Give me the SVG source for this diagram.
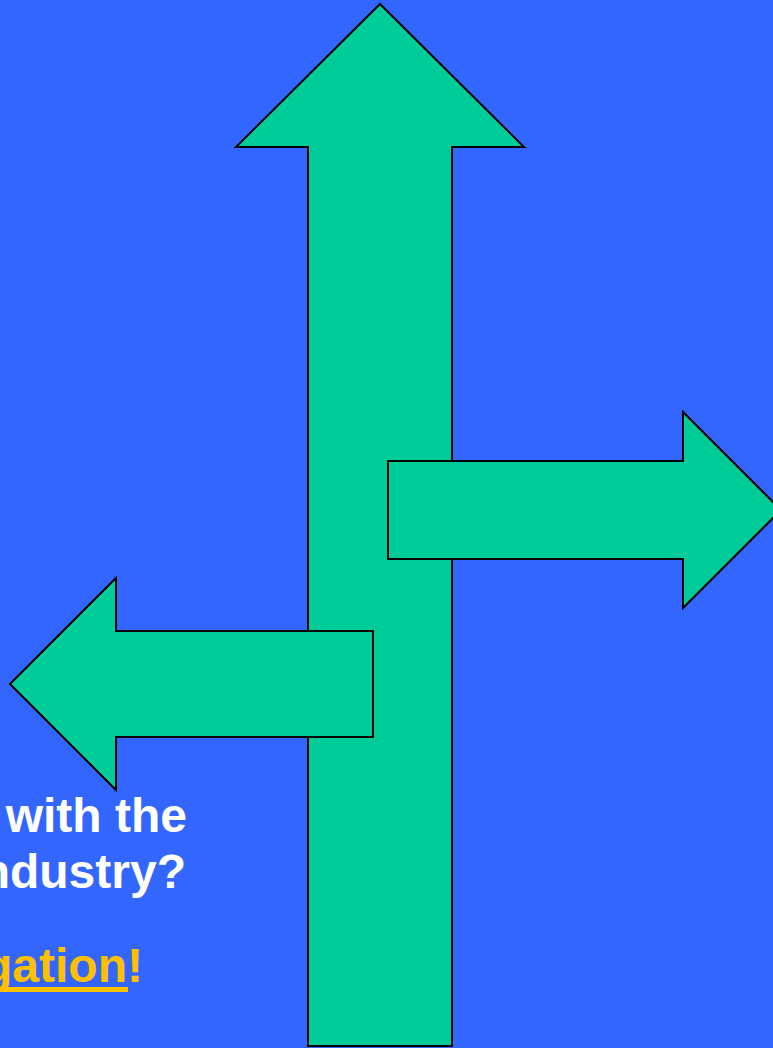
<svg xmlns="http://www.w3.org/2000/svg" width="773" height="1048" viewBox="0 0 773 1048">
  <style>
    .arrow { fill: #00CC99; stroke: #000000; stroke-width: 2; stroke-linejoin: miter; }
    .label { font-family: "Liberation Sans", Arial, sans-serif; font-weight: bold; font-size: 48px; }
    .white { fill: #FFFFFF; }
    .gold { fill: #FFC000; }
  </style>
  <rect x="0" y="0" width="773" height="1048" fill="#3366FF"/>

  <!-- caption text -->
  <g id="caption">
    <text class="label white" x="187" y="832" text-anchor="end">with the</text>
    <text class="label white" x="186" y="888" text-anchor="end">ndustry?</text>
    <text class="label gold" x="143" y="982" text-anchor="end">gation!</text>
    <!-- underline under the linked word -->
    <rect class="gold" x="0" y="987" width="128" height="5"/>
  </g>

  <!-- signpost arrows -->
  <g id="connectors">
    <g id="arrow-up">
      <polygon class="arrow" points="380,4 524,147 452,147 452,1046 308,1046 308,147 236,147"/>
    </g>
    <g id="arrow-right">
      <polygon class="arrow" points="388,461 683,461 683,412 781,510 683,608 683,559 388,559"/>
    </g>
    <g id="arrow-left">
      <polygon class="arrow" points="373,631 116,631 116,578 10,684 116,790 116,737 373,737"/>
    </g>
  </g>
</svg>
